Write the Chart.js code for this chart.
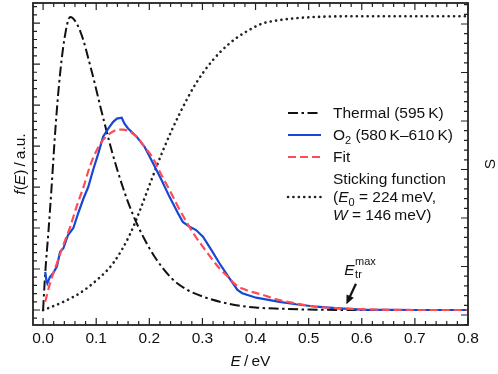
<!DOCTYPE html>
<html>
<head>
<meta charset="utf-8">
<script src="https://cdn.jsdelivr.net/npm/chart.js@4"></script>
<style>
  html, body { margin: 0; padding: 0; background: #fff; }
  canvas { display: block; }
</style>
</head>
<body>
<canvas id="c" width="498" height="374"></canvas>
<script>
// values (E in eV, f in a.u., S in a.u.)
const thermalE = [0, 0.004, 0.010, 0.016, 0.022, 0.030, 0.040, 0.051, 0.070, 0.090, 0.110, 0.130, 0.150, 0.170, 0.190, 0.210, 0.240, 0.270, 0.300, 0.350, 0.400, 0.450, 0.500, 0.600, 0.700, 0.800];
const thermalF = [0, 0.9, 1.9, 3.0, 4.2, 5.5, 6.6, 7.15, 6.8, 5.9, 4.85, 3.85, 3.0, 2.3, 1.75, 1.3, 0.8, 0.5, 0.33, 0.15, 0.06, 0.03, 0.01, 0, 0, 0];

const o2E = [0.004, 0.006, 0.008, 0.013, 0.019, 0.026, 0.032, 0.038, 0.047, 0.057, 0.066, 0.076, 0.085, 0.094, 0.104, 0.113, 0.123, 0.132, 0.139, 0.148, 0.153, 0.160, 0.176, 0.191, 0.207, 0.223, 0.238, 0.254, 0.263, 0.276, 0.288, 0.301, 0.317, 0.332, 0.351, 0.366, 0.375, 0.401, 0.445, 0.476, 0.514, 0.557, 0.600, 0.700, 0.800];
const o2F = [0.93, 0.75, 0.65, 0.81, 0.90, 1.06, 1.42, 1.50, 1.83, 2.00, 2.36, 2.72, 3.00, 3.41, 3.82, 4.23, 4.43, 4.59, 4.67, 4.69, 4.55, 4.43, 4.23, 3.98, 3.58, 3.17, 2.76, 2.36, 2.15, 2.03, 1.95, 1.79, 1.46, 1.14, 0.77, 0.49, 0.41, 0.30, 0.20, 0.14, 0.08, 0.04, 0.01, 0.0, 0.0];

const fitE = [0.004, 0.013, 0.026, 0.038, 0.051, 0.063, 0.076, 0.088, 0.101, 0.113, 0.126, 0.138, 0.150, 0.160, 0.176, 0.191, 0.207, 0.223, 0.238, 0.254, 0.270, 0.285, 0.301, 0.317, 0.332, 0.348, 0.363, 0.382, 0.413, 0.445, 0.476, 0.514, 0.560, 0.600, 0.700, 0.800];
const fitF = [0.20, 0.65, 1.14, 1.58, 2.03, 2.52, 3.00, 3.50, 3.90, 4.15, 4.31, 4.39, 4.40, 4.37, 4.23, 3.98, 3.70, 3.29, 2.93, 2.52, 2.15, 1.83, 1.54, 1.26, 1.02, 0.81, 0.61, 0.49, 0.37, 0.24, 0.16, 0.08, 0.04, 0.02, 0.0, 0.0];

const stickE = [0.000, 0.038, 0.069, 0.101, 0.132, 0.163, 0.182, 0.201, 0.226, 0.257, 0.288, 0.320, 0.351, 0.382, 0.413, 0.445, 0.476, 0.526, 0.600, 0.700, 0.800];
const stickS = [0.10, 0.27, 0.45, 0.72, 1.07, 1.65, 2.15, 2.70, 3.40, 4.15, 4.78, 5.26, 5.60, 5.84, 6.01, 6.08, 6.12, 6.15, 6.16, 6.16, 6.16];

const xTickStep = 0.1;

const FONT = '"Liberation Sans", Arial, Helvetica, sans-serif';
const INK = '#111';
Chart.defaults.font.family = FONT;

const pts = (xs, ys) => xs.map((x, i) => ({ x, y: ys[i] }));

function fontFor(kind, size) {
  const small = kind === 'sub' || kind === 'sup';
  const s = small ? Math.round(size * 0.7) : size;
  return (kind === 'i' ? 'italic ' : '') + s + 'px ' + FONT;
}

function richWidth(ctx, parts, size) {
  let w = 0;
  for (const [t, k] of parts) { ctx.font = fontFor(k, size); w += ctx.measureText(t).width; }
  return w;
}

function drawRich(ctx, x, y, parts, size) {
  for (const [t, k] of parts) {
    ctx.font = fontFor(k, size);
    const dy = k === 'sub' ? size * 0.28 : k === 'sup' ? -size * 0.4 : 0;
    ctx.fillText(t, x, y + dy);
    x += ctx.measureText(t).width;
  }
  return x;
}

const ds = {
  thermal: { label: 'Thermal (595 K)', data: pts(thermalE, thermalF), borderColor: '#111', borderWidth: 2, borderDash: [10, 3.5, 2.5, 3.5], cubicInterpolationMode: 'monotone', order: 2 },
  o2: { label: 'O2 (580 K–610 K)', data: pts(o2E, o2F), borderColor: '#1747d4', borderWidth: 2.2, order: 1 },
  fit: { label: 'Fit', data: pts(fitE, fitF), borderColor: '#ff4b55', borderWidth: 2.2, borderDash: [8, 4], cubicInterpolationMode: 'monotone', order: 0 },
  stick: { label: 'Sticking function', data: pts(stickE, stickS), yAxisID: 'yS', borderColor: '#222', borderWidth: 2.6, borderDash: [0.1, 5.3], borderCapStyle: 'round', cubicInterpolationMode: 'monotone', order: 3 },
};

const legendRows = [
  { y: 113, key: 'thermal', parts: [['Thermal (595\u2009K)', 'n']] },
  { y: 135, key: 'o2', parts: [['O', 'n'], ['2', 'sub'], [' (580\u2009K\u2013610\u2009K)', 'n']] },
  { y: 157, key: 'fit', parts: [['Fit', 'n']] },
  { y: 179, key: null, parts: [['Sticking function', 'n']] },
  { y: 197, key: 'stick', parts: [['(', 'n'], ['E', 'i'], ['0', 'sub'], [' = 224\u2009meV,', 'n']] },
  { y: 215, key: null, parts: [['W', 'i'], [' = 146\u2009meV)', 'n']] },
];

const decor = {
  id: 'decor',
  afterDraw(chart) {
    const { ctx, chartArea: a, scales } = chart;
    ctx.save();
    ctx.strokeStyle = '#222';
    ctx.lineWidth = 1.8;
    ctx.strokeRect(a.left, a.top, a.right - a.left, a.bottom - a.top);

    // inward ticks on all four sides
    ctx.lineWidth = 1.2;
    const eachTick = (scale, major, minor, fn) => {
      const start = Math.ceil(scale.min / minor - 1e-9);
      for (let i = start; i * minor <= scale.max + 1e-9; i++) {
        const v = i * minor;
        const isMajor = Math.abs(v / major - Math.round(v / major)) < 1e-6;
        fn(scale.getPixelForValue(v), isMajor ? 7 : 4);
      }
    };
    ctx.beginPath();
    eachTick(scales.x, xTickStep, 0.02, (p, len) => {
      ctx.moveTo(p, a.bottom); ctx.lineTo(p, a.bottom - len);
      ctx.moveTo(p, a.top); ctx.lineTo(p, a.top + len);
    });
    eachTick(scales.y, 1, 0.2, (p, len) => { ctx.moveTo(a.left, p); ctx.lineTo(a.left + len, p); });
    eachTick(scales.yS, 1, 0.2, (p, len) => { ctx.moveTo(a.right, p); ctx.lineTo(a.right - len, p); });
    ctx.stroke();

    ctx.fillStyle = INK;
    ctx.textBaseline = 'alphabetic';
    ctx.textAlign = 'left';

    // axis titles
    const xt = [['E', 'i'], ['\u2009/\u2009eV', 'n']];
    drawRich(ctx, (a.left + a.right) / 2 - richWidth(ctx, xt, 15.5) / 2, 366, xt, 15.5);

    const yt = [['f', 'i'], ['(', 'n'], ['E', 'i'], [')\u2009/\u2009a.u.', 'n']];
    ctx.save();
    ctx.translate(25, (a.top + a.bottom) / 2);
    ctx.rotate(-Math.PI / 2);
    drawRich(ctx, -richWidth(ctx, yt, 15.5) / 2, 0, yt, 15.5);
    ctx.restore();

    ctx.save();
    ctx.translate(495, (a.top + a.bottom) / 2);
    ctx.rotate(-Math.PI / 2);
    ctx.font = '15.5px ' + FONT;
    ctx.textAlign = 'center';
    ctx.fillText('S', 0, 0);
    ctx.restore();

    // legend
    for (const row of legendRows) {
      if (row.key) {
        const d = ds[row.key];
        ctx.save();
        ctx.strokeStyle = d.borderColor;
        ctx.lineWidth = d.borderWidth;
        ctx.lineCap = d.borderCapStyle || 'butt';
        ctx.setLineDash(d.borderDash || []);
        ctx.beginPath();
        ctx.moveTo(288, row.y); ctx.lineTo(321, row.y);
        ctx.stroke();
        ctx.restore();
      }
      drawRich(ctx, 333, row.y + 5, row.parts, 15.5);
    }

    // E_tr^max annotation with arrow
    const xs = scales.x, ys = scales.y;
    const bx = xs.getPixelForValue(0.567), by = ys.getPixelForValue(0.85);
    ctx.font = 'italic 15.5px ' + FONT;
    ctx.fillText('E', bx, by);
    const ew = ctx.measureText('E').width;
    ctx.font = '11px ' + FONT;
    ctx.fillText('max', bx + ew + 0.5, by - 10);
    ctx.fillText('tr', bx + ew + 0.5, by + 3);

    const tx = xs.getPixelForValue(0.589), ty = ys.getPixelForValue(0.64);
    const hx = xs.getPixelForValue(0.571), hy = ys.getPixelForValue(0.14);
    const ang = Math.atan2(hy - ty, hx - tx);
    ctx.strokeStyle = INK;
    ctx.lineWidth = 2.2;
    ctx.beginPath();
    ctx.moveTo(tx, ty);
    ctx.lineTo(hx - 6 * Math.cos(ang), hy - 6 * Math.sin(ang));
    ctx.stroke();
    ctx.beginPath();
    ctx.moveTo(hx, hy);
    ctx.lineTo(hx - 9 * Math.cos(ang) + 4 * Math.sin(ang), hy - 9 * Math.sin(ang) - 4 * Math.cos(ang));
    ctx.lineTo(hx - 9 * Math.cos(ang) - 4 * Math.sin(ang), hy - 9 * Math.sin(ang) + 4 * Math.cos(ang));
    ctx.closePath();
    ctx.fill();
    ctx.restore();
  },
};

new Chart(document.getElementById('c'), {
  type: 'line',
  data: { datasets: [ds.thermal, ds.o2, ds.fit, ds.stick] },
  options: {
    responsive: false,
    animation: false,
    events: [],
    layout: { padding: { top: 3, left: 0, right: 0, bottom: 0 } },
    elements: { point: { radius: 0 }, line: { tension: 0, fill: false } },
    plugins: { legend: { display: false }, tooltip: { enabled: false } },
    scales: {
      x: {
        type: 'linear', min: -0.019, max: 0.8,
        grid: { display: false, drawTicks: false }, border: { display: false },
        ticks: {
          stepSize: xTickStep, includeBounds: false, autoSkip: false, maxRotation: 0,
          padding: 4, color: INK, font: { size: 15.5 },
          callback: v => v.toFixed(1),
        },
        afterFit: s => { s.height = 49; },
      },
      y: {
        min: -0.366, max: 7.49,
        grid: { display: false }, border: { display: false },
        ticks: { display: false },
        afterFit: s => { s.width = 33; },
      },
      yS: {
        position: 'right', min: -0.206, max: 6.433,
        grid: { display: false }, border: { display: false },
        ticks: { display: false },
        afterFit: s => { s.width = 30; },
      },
    },
  },
  plugins: [decor],
});
</script>
</body>
</html>
